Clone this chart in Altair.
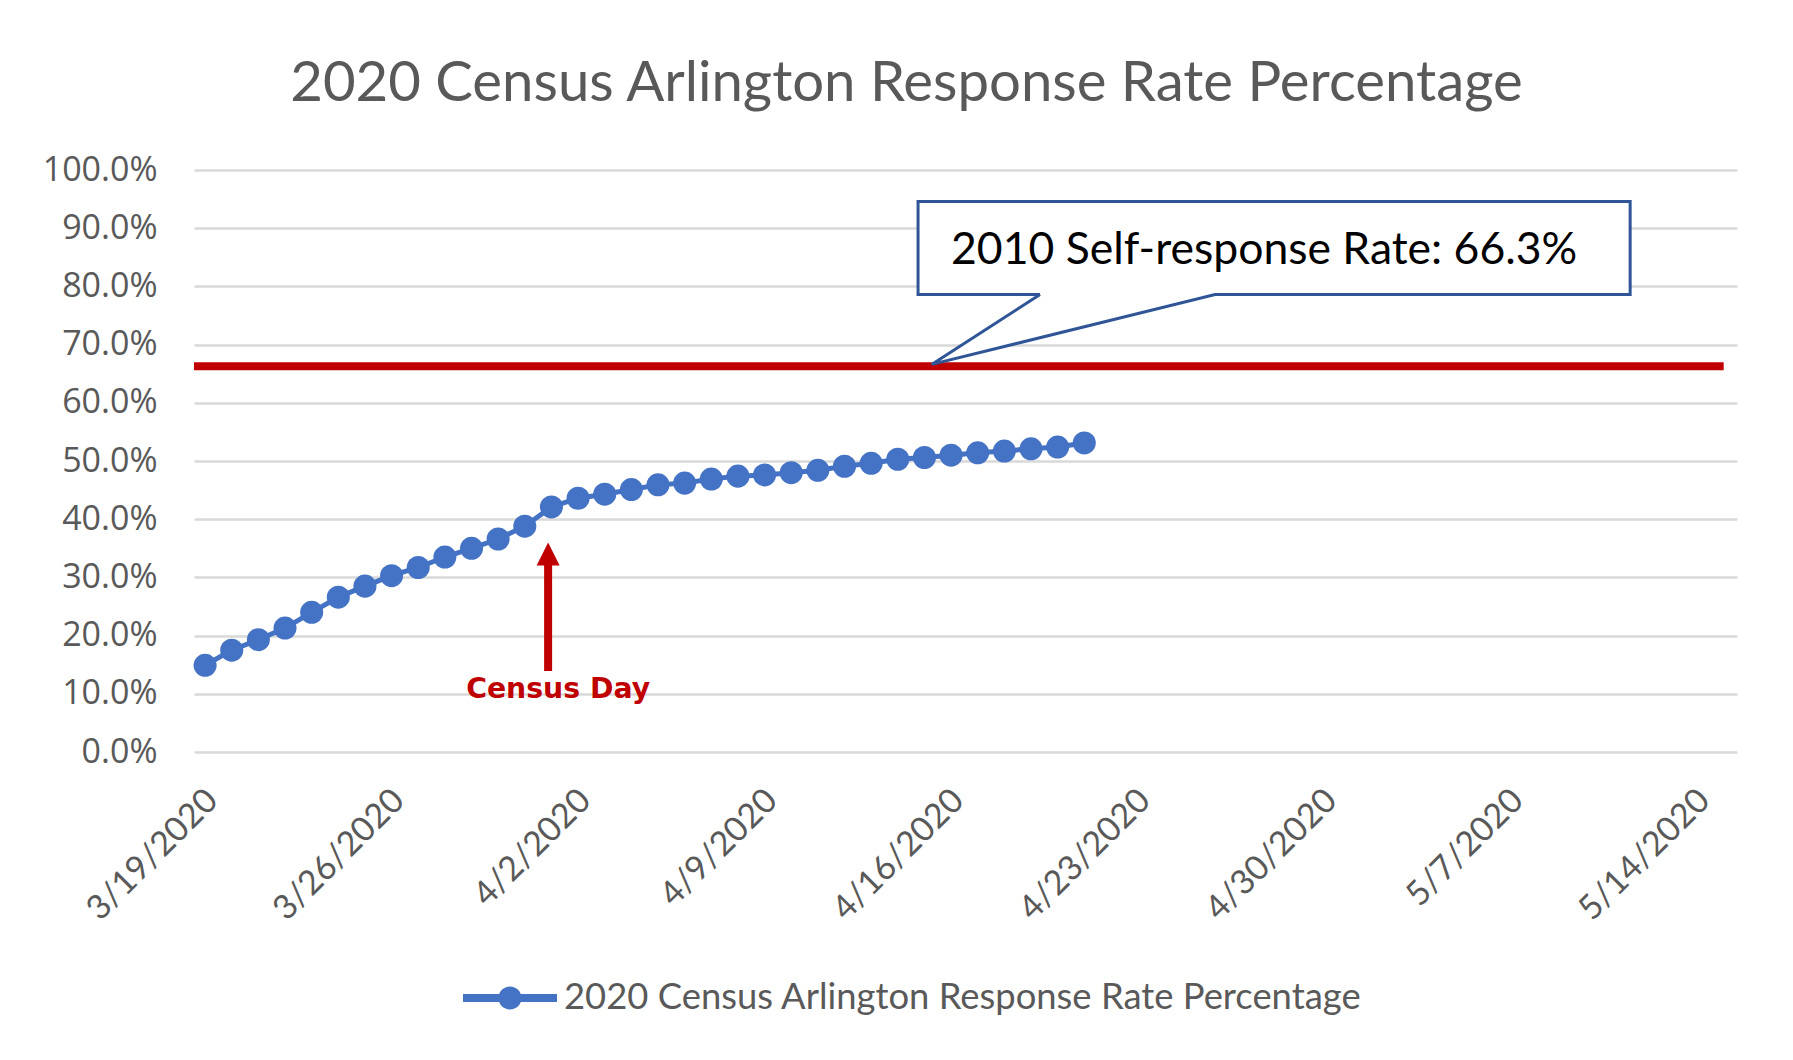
import altair as alt
import pandas as pd

# ---------------- data ----------------
dates = [
    "2020-03-19", "2020-03-20", "2020-03-21", "2020-03-22", "2020-03-23", "2020-03-24",
    "2020-03-25", "2020-03-26", "2020-03-27", "2020-03-28", "2020-03-29", "2020-03-30",
    "2020-03-31", "2020-04-01", "2020-04-02", "2020-04-03", "2020-04-04", "2020-04-05",
    "2020-04-06", "2020-04-07", "2020-04-08", "2020-04-09", "2020-04-10", "2020-04-11",
    "2020-04-12", "2020-04-13", "2020-04-14", "2020-04-15", "2020-04-16", "2020-04-17",
    "2020-04-18", "2020-04-19", "2020-04-20", "2020-04-21",
]
rates = [
    14.9, 17.5, 19.3, 21.3, 24.0, 26.6, 28.5, 30.3, 31.7, 33.5, 35.0, 36.6,
    38.8, 42.1, 43.6, 44.3, 45.1, 45.9, 46.2, 46.9, 47.4, 47.6, 48.0, 48.4,
    49.1, 49.6, 50.3, 50.6, 51.0, 51.4, 51.7, 52.1, 52.4, 53.1,
]
series_name = "2020 Census Arlington Response Rate Percentage"
title_text = "2020 Census Arlington Response Rate Percentage"

rate_2010 = 66.3
rate_2010_span = ["2020-03-18T14:00:00", "2020-05-15T00:00:00"]
callout_text = "2010 Self-response Rate: 66.3%"

x_tick_dates = ["2020-03-19", "2020-03-26", "2020-04-02", "2020-04-09", "2020-04-16",
                "2020-04-23", "2020-04-30", "2020-05-07", "2020-05-14"]
y_ticks = [0, 10, 20, 30, 40, 50, 60, 70, 80, 90, 100]

census_day_label = "Census Day"

# annotation anchors (data units)
box_x = ["2020-04-14T18:15:00", "2020-05-11T11:45:00"]
box_y = [78.6, 94.6]
ptr_base1 = ("2020-04-19T08:10:00", 78.6)
ptr_base2 = ("2020-04-25T21:50:00", 78.6)
ptr_tip = ("2020-04-15T06:30:00", 66.6)
ptr_base1_low = 71.2
callout_text_pos = ("2020-04-27T18:00:00", 86.0)

arrow_x = "2020-03-31T21:00:00"
arrow_shaft = [13.9, 32.6]
arrow_head_y = 34.0
census_label_pos = ("2020-04-01T06:00:00", 10.7)

# ---------------- helpers ----------------
def loc(d):
    return d if "T" in d else d + "T00:00:00"


def dt(d):
    y, m, rest = d.split("-")
    day = rest.split("T")[0]
    return alt.DateTime(year=int(y), month=int(m), date=int(day))


GREY = "#595959"
BLUE = "#4472C4"
RED = "#C00000"
BOX = "#2F5597"

xscale = alt.Scale(domain=[alt.DateTime(year=2020, month=3, date=18, hours=14),
                           alt.DateTime(year=2020, month=5, date=15, hours=12)])
yscale = alt.Scale(domain=[0, 100], nice=False)

xaxis = alt.Axis(values=[dt(d) for d in x_tick_dates], format="%-m/%-d/%Y",
                 labelAngle=315, labelAlign="right", labelBaseline="top",
                 labelPadding=31, labelOffset=-5, labelFont="Lato", labelFontSize=34,
                 labelColor=GREY, grid=False, domain=False, ticks=False,
                 title=None, labelOverlap=False, labelBound=False, labelFlush=False)
yaxis = alt.Axis(values=y_ticks, labelExpr="format(datum.value, '.1f') + '%'",
                 grid=True, gridColor="#D9D9D9", gridWidth=2.5, domain=False,
                 ticks=False, labelFont="Open Sans", labelFontSize=34,
                 labelColor=GREY, labelPadding=37, title=None)

X = alt.X("x:T", scale=xscale, axis=xaxis)
Y = alt.Y("y:Q", scale=yscale, axis=yaxis)

main = pd.DataFrame({"x": [loc(d) for d in dates], "y": rates, "series": series_name})

line = alt.Chart(main).mark_line(color=BLUE, strokeWidth=5).encode(x=X, y=Y)

legend_path = ("M-1,-0.085L1,-0.085L1,0.085L-1,0.085Z "
               "M0.245,0A0.245,0.245 0 1,1 -0.245,0A0.245,0.245 0 1,1 0.245,0Z")
points = alt.Chart(main).mark_circle(size=530, opacity=1).encode(
    x=X, y=Y,
    color=alt.Color("series:N", scale=alt.Scale(range=[BLUE]),
                    legend=alt.Legend(title=None, orient="none", legendX=269, legendY=781,
                                      symbolType=legend_path, symbolSize=8836,
                                      symbolStrokeWidth=0, labelFont="Lato",
                                      labelFontSize=36.4, labelColor=GREY,
                                      labelOffset=7, labelLimit=2000)),
)

red_df = pd.DataFrame({"x": [rate_2010_span[0]], "x2": [rate_2010_span[1]], "y": [rate_2010]})
red_line = alt.Chart(red_df).mark_rule(color=RED, strokeWidth=8).encode(x=X, x2="x2:T", y=Y)

box_df = pd.DataFrame({"x": [box_x[0]], "x2": [box_x[1]], "y": [box_y[0]], "y2": [box_y[1]]})
box = alt.Chart(box_df).mark_rect(fill="white").encode(x=X, x2="x2:T", y=Y, y2="y2:Q")

tri_df = pd.DataFrame({
    "x": [ptr_tip[0], ptr_base1[0], ptr_base2[0]],
    "y": [ptr_tip[1], ptr_base1_low, ptr_base2[1]],
    "y2": [ptr_tip[1], ptr_base1[1], ptr_base2[1]],
})
tri = alt.Chart(tri_df).mark_area(fill="white", opacity=1).encode(x=X, y=Y, y2="y2:Q")

outline_df = pd.DataFrame({
    "x": [ptr_base1[0], box_x[0], box_x[0], box_x[1], box_x[1], ptr_base2[0], ptr_tip[0], ptr_base1[0]],
    "y": [box_y[0], box_y[0], box_y[1], box_y[1], box_y[0], box_y[0], ptr_tip[1], box_y[0]],
    "o": list(range(8)),
})
outline = alt.Chart(outline_df).mark_line(color=BOX, strokeWidth=3, strokeJoin="miter").encode(
    x=X, y=Y, order="o:Q")

ctext_df = pd.DataFrame({"x": [callout_text_pos[0]], "y": [callout_text_pos[1]], "t": [callout_text]})
ctext = alt.Chart(ctext_df).mark_text(font="Lato", fontSize=44.5, color="black",
                                      align="center", baseline="middle").encode(x=X, y=Y, text="t:N")

shaft_df = pd.DataFrame({"x": [arrow_x], "y": [arrow_shaft[0]], "y2": [arrow_shaft[1]]})
shaft = alt.Chart(shaft_df).mark_rule(color=RED, strokeWidth=8).encode(x=X, y=Y, y2="y2:Q")

head_df = pd.DataFrame({"x": [arrow_x], "y": [arrow_head_y]})
head = alt.Chart(head_df).mark_point(shape="M0,-1L1,1L-1,1Z", size=529, filled=True,
                                     color=RED, opacity=1, strokeWidth=0).encode(x=X, y=Y)

cday_df = pd.DataFrame({"x": [census_label_pos[0]], "y": [census_label_pos[1]], "t": [census_day_label]})
cday = alt.Chart(cday_df).mark_text(font="DejaVu Sans", fontWeight="bold", fontSize=28.3,
                                    color=RED, align="center", baseline="middle").encode(
    x=X, y=Y, text="t:N")

chart = alt.layer(line, points, red_line, box, tri, outline, ctext, shaft, head, cday).properties(
    width=1543, height=582,
    title=alt.TitleParams(title_text, font="Lato", fontSize=56.3, fontWeight="normal",
                          color=GREY, anchor="middle", dx=-59, offset=40),
    autosize=alt.AutoSizeParams(type="none"),
    padding={"left": 186, "top": 162, "right": 40, "bottom": 270},
    background="white",
).configure_view(stroke=None)

chart.save("out.html", embed_options={"renderer": "svg", "actions": False})
